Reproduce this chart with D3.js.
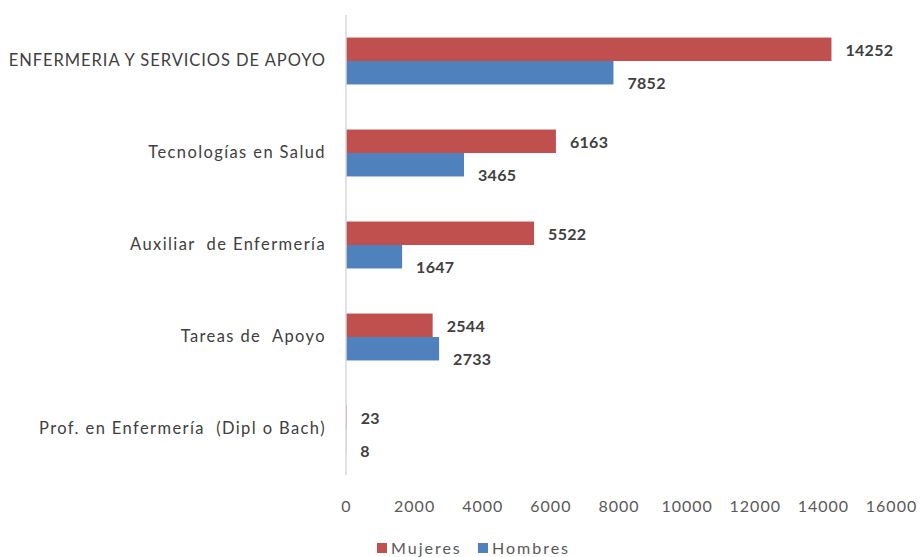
<!DOCTYPE html>
<html>
<head>
<meta charset="utf-8">
<script src="https://cdn.jsdelivr.net/npm/d3@7"></script>
<style>
  html, body { margin: 0; padding: 0; background: #fff; }
  svg { display: block; font-family: Lato, "Open Sans", sans-serif; }
</style>
</head>
<body>
<svg id="chart" width="921" height="557"></svg>
<script>
// Personal de enfermería por categoría y sexo
const categories = [
  "ENFERMERIA Y SERVICIOS DE APOYO",
  "Tecnologías en Salud",
  "Auxiliar  de Enfermería",
  "Tareas de  Apoyo",
  "Prof. en Enfermería  (Dipl o Bach)"
];
const seriesNames = ["Mujeres", "Hombres"];
const mujeres = [14252, 6163, 5522, 2544, 23];
const hombres = [7852, 3465, 1647, 2733, 8];
const xTicks = [0, 2000, 4000, 6000, 8000, 10000, 12000, 14000, 16000];

const colors = { Mujeres: "#C0504D", Hombres: "#4F81BD" };
const seriesValues = { Mujeres: mujeres, Hombres: hombres };

const svg = d3.select("#chart");
const margin = { top: 15, left: 346, right: 30, bottom: 82 };
const W = 921, H = 557;

const x = d3.scaleLinear().domain([0, 16000]).range([margin.left, margin.left + 545]);
const y = d3.scaleBand().domain(categories).range([margin.top, H - margin.bottom]).paddingInner(0.49).paddingOuter(0.245);
const ys = d3.scaleBand().domain(seriesNames).range([0, y.bandwidth()]);

// bars
const groups = svg.append("g").selectAll("g")
  .data(categories)
  .join("g")
  .attr("transform", d => `translate(0,${y(d)})`);

seriesNames.forEach(s => {
  groups.append("rect")
    .attr("x", x(0))
    .attr("y", ys(s))
    .attr("width", (d, i) => x(seriesValues[s][i]) - x(0))
    .attr("height", ys.bandwidth())
    .attr("fill", colors[s]);
});

// value labels
groups.append("text")
  .attr("x", (d, i) => x(mujeres[i]) + 14)
  .attr("y", ys("Mujeres") + ys.bandwidth() / 2 + 1)
  .attr("dy", "0.35em")
  .attr("font-size", 16)
  .attr("font-weight", "bold")
  .attr("letter-spacing", 0.3)
  .attr("fill", "#404040")
  .text((d, i) => mujeres[i]);

groups.append("text")
  .attr("x", (d, i) => x(hombres[i]) + 14)
  .attr("y", ys("Hombres") + ys.bandwidth() - 1)
  .attr("dy", "0.35em")
  .attr("font-size", 16)
  .attr("font-weight", "bold")
  .attr("letter-spacing", 0.3)
  .attr("fill", "#404040")
  .text((d, i) => hombres[i]);

// category axis (left)
const yAxis = d3.axisLeft(y).tickSize(0).tickPadding(20);
const gy = svg.append("g").attr("transform", `translate(${x(0)},0)`).call(yAxis);
gy.select(".domain").remove();
gy.selectAll("text")
  .attr("font-size", 16.5)
  .attr("font-family", "Lato, 'Open Sans', sans-serif")
  // capitals are wider already, so they get less extra tracking
  .attr("letter-spacing", d => d === d.toUpperCase() ? 0.95 : 1.4)
  .style("white-space", "pre")
  .attr("fill", "#404040");

// vertical baseline
svg.append("line")
  .attr("x1", x(0)).attr("x2", x(0))
  .attr("y1", margin.top).attr("y2", H - margin.bottom)
  .attr("stroke", "#d9d9d9")
  .attr("stroke-width", 1.5);

// value axis (bottom)
const xAxis = d3.axisBottom(x).tickValues(xTicks).tickSize(0).tickPadding(0).tickFormat(d3.format("d"));
const gx = svg.append("g").attr("transform", `translate(0,${H - margin.bottom + 26})`).call(xAxis);
gx.select(".domain").remove();
gx.selectAll("text")
  .attr("font-size", 16)
  .attr("font-family", "Lato, 'Open Sans', sans-serif")
  .attr("letter-spacing", 1)
  .attr("fill", "#595959");

// legend
const legend = svg.append("g").attr("transform", "translate(377,548)");
const legendX = { Mujeres: 0, Hombres: 101 };
seriesNames.forEach(s => {
  const g = legend.append("g").attr("transform", `translate(${legendX[s]},0)`);
  g.append("rect").attr("x", 0).attr("y", -5).attr("width", 10).attr("height", 10).attr("fill", colors[s]);
  g.append("text")
    .attr("x", 14).attr("y", 0).attr("dy", "0.35em")
    .attr("font-size", 16)
    .attr("letter-spacing", 2)
    .attr("fill", "#595959")
    .text(s);
});
</script>
</body>
</html>
